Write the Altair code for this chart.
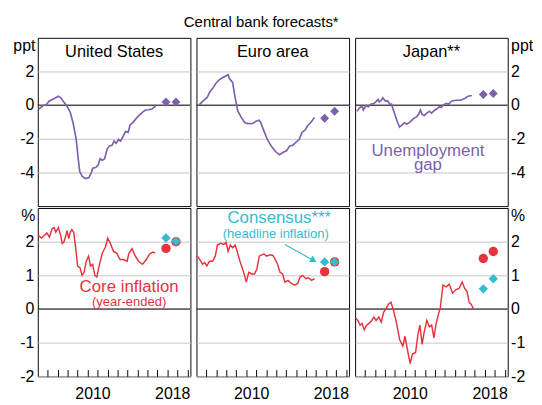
import altair as alt
import pandas as pd

FONT = "Liberation Sans"
PURPLE = "#7d5fae"
RED = "#e8323c"
TEAL = "#36bccf"
GRID = "#c4c4c4"

YEAR_DOMAIN = [2005, 2020.3]
GAP_DOMAIN = [-6, 4]
INF_DOMAIN = [-2, 3]
GAP_TICKS = [-4, -2, 0, 2]
INF_TICKS = [-2, -1, 0, 1, 2]
YEAR_TICKS = list(range(2006, 2021))
COUNTRIES = ["United States", "Euro area", "Japan**"]
FORECAST_YEARS = [2017.85, 2018.85]

# ---- Unemployment gap (ppt) ----
us_gap_x = [2005.1, 2005.5, 2005.85, 2006.15, 2006.65, 2007.05, 2007.3, 2007.6, 2007.9, 2008.25,
            2008.55, 2008.85, 2009.05, 2009.2, 2009.45, 2009.75, 2010.1, 2010.35, 2010.5, 2010.8,
            2011.05, 2011.25, 2011.45, 2011.7, 2011.95, 2012.2, 2012.45, 2012.65, 2012.85, 2013.1,
            2013.3, 2013.55, 2013.8, 2014.05, 2014.25, 2014.5, 2014.85, 2015.15, 2015.5, 2015.8,
            2016.1, 2016.45, 2016.7, 2016.85]
us_gap_y = [-0.23, -0.04, 0.02, 0.25, 0.4, 0.53, 0.44, 0.19, -0.04, -0.42,
            -1.09, -2.04, -3.18, -3.94, -4.23, -4.36, -4.32, -4.04, -3.75, -3.71,
            -3.56, -3.18, -3.28, -3.18, -2.61, -2.42, -2.38, -2.13, -2.27, -2.04,
            -2.13, -1.85, -1.56, -1.62, -1.18, -1.05, -0.8, -0.61, -0.42, -0.29,
            -0.27, -0.23, -0.1, 0.0]

ea_gap_x = [2005.27, 2005.66, 2006.05, 2006.37, 2006.6, 2006.95, 2007.33, 2007.75, 2008.17, 2008.3,
            2008.62, 2008.88, 2009.13, 2009.46, 2009.85, 2010.16, 2010.65, 2010.97, 2011.3, 2011.45,
            2011.78, 2012.1, 2012.48, 2012.9, 2013.32, 2013.7, 2014.03, 2014.35, 2014.67, 2015.0,
            2015.3, 2015.57, 2015.9, 2016.12, 2016.44, 2016.83]
ea_gap_y = [0.02, 0.25, 0.44, 0.82, 0.97, 1.3, 1.53, 1.67, 1.81, 1.58,
            1.35, 0.44, -0.33, -0.7, -1.05, -1.1, -1.09, -0.95, -0.9, -1.05,
            -1.56, -2.04, -2.42, -2.74, -2.95, -2.8, -2.71, -2.42, -2.38, -2.19,
            -2.04, -1.62, -1.47, -1.24, -1.05, -0.74]

jp_gap_x = [2005.17, 2005.43, 2005.7, 2005.82, 2006.08, 2006.33, 2006.56, 2006.88, 2007.1, 2007.3,
            2007.43, 2007.62, 2007.78, 2008.01, 2008.26, 2008.49, 2008.65, 2008.91, 2009.23, 2009.46,
            2009.68, 2009.94, 2010.19, 2010.52, 2010.84, 2011.16, 2011.39, 2011.54, 2011.71, 2011.93,
            2012.19, 2012.45, 2012.67, 2012.9, 2013.16, 2013.42, 2013.64, 2013.86, 2014.12, 2014.38,
            2014.7, 2015.09, 2015.57, 2015.98, 2016.31, 2016.7]
jp_gap_y = [-0.36, -0.17, -0.04, -0.29, -0.04, -0.1, 0.06, 0.1, 0.21, 0.34,
            0.19, 0.29, 0.44, 0.25, 0.25, 0.06, 0.06, -0.42, -0.99, -1.31,
            -1.18, -1.05, -1.13, -0.99, -0.8, -0.7, -0.51, -0.29, -0.55, -0.61,
            -0.47, -0.36, -0.47, -0.33, -0.23, -0.1, -0.13, 0.02, 0.1, 0.06,
            0.25, 0.29, 0.29, 0.4, 0.53, 0.57]

us_gap_fc = [0.19, 0.19]
ea_gap_fc = [-0.78, -0.36]
jp_gap_fc = [0.63, 0.69]

# ---- Core inflation (%) ----
us_inf_x = [2005.03, 2005.36, 2005.68, 2005.9, 2006.16, 2006.42, 2006.64, 2006.8, 2007.06, 2007.29,
            2007.44, 2007.61, 2007.77, 2007.93, 2008.1, 2008.25, 2008.41, 2008.6, 2008.8, 2008.99,
            2009.22, 2009.44, 2009.64, 2009.86, 2010.09, 2010.28, 2010.5, 2010.72, 2010.92, 2011.15,
            2011.46, 2011.79, 2012.01, 2012.27, 2012.59, 2012.91, 2013.23, 2013.56, 2013.95, 2014.14,
            2014.46, 2014.78, 2015.1, 2015.49, 2015.88, 2016.2, 2016.52, 2016.78]
us_inf_y = [2.2, 2.11, 2.19, 2.26, 2.14, 2.38, 2.42, 2.28, 2.42, 2.19,
            1.95, 1.99, 2.14, 2.33, 2.09, 2.28, 2.36, 2.28, 1.81, 1.28,
            1.23, 1.0, 1.09, 1.42, 1.57, 1.28, 1.33, 1.0, 0.95, 1.28,
            1.66, 1.85, 2.11, 1.95, 1.71, 1.66, 1.47, 1.47, 1.42, 1.66,
            1.79, 1.57, 1.42, 1.33, 1.47, 1.63, 1.69, 1.66]

ea_inf_x = [2005.08, 2005.34, 2005.6, 2005.82, 2006.04, 2006.3, 2006.62, 2006.88, 2007.1, 2007.43,
            2007.75, 2007.97, 2008.17, 2008.4, 2008.62, 2008.88, 2009.13, 2009.36, 2009.68, 2010.0,
            2010.23, 2010.55, 2010.81, 2011.06, 2011.3, 2011.52, 2011.78, 2012.03, 2012.35, 2012.67,
            2012.9, 2013.13, 2013.38, 2013.64, 2013.86, 2014.19, 2014.51, 2014.83, 2015.15, 2015.38,
            2015.64, 2015.96, 2016.22, 2016.54, 2016.85]
ea_inf_y = [1.57, 1.47, 1.33, 1.38, 1.28, 1.42, 1.42, 1.57, 1.9, 1.95,
            1.92, 1.98, 1.71, 1.9, 1.82, 1.9, 1.66, 1.42, 1.14, 0.8,
            1.09, 1.04, 1.04, 1.19, 1.57, 1.61, 1.63, 1.57, 1.61, 1.59,
            1.47, 1.33, 1.09, 1.04, 0.8, 0.85, 0.76, 0.71, 0.76, 0.95,
            1.0, 0.9, 0.93, 0.85, 0.9]

jp_inf_x = [2005.05, 2005.27, 2005.5, 2005.7, 2005.92, 2006.14, 2006.4, 2006.66, 2006.88, 2007.1,
            2007.37, 2007.62, 2007.85, 2008.07, 2008.33, 2008.59, 2008.81, 2009.13, 2009.46, 2009.78,
            2010.0, 2010.26, 2010.52, 2010.74, 2011.06, 2011.29, 2011.49, 2011.71, 2011.93, 2012.19,
            2012.45, 2012.67, 2012.9, 2013.09, 2013.32, 2013.54, 2013.8, 2014.12, 2014.44, 2014.77,
            2015.09, 2015.41, 2015.73, 2015.98, 2016.22, 2016.44, 2016.63, 2016.85]
jp_inf_y = [-0.27, -0.34, -0.48, -0.43, -0.62, -0.48, -0.43, -0.34, -0.24, -0.34,
            -0.24, -0.39, -0.1, 0.0, 0.14, 0.2, 0.0, -0.39, -0.91, -1.1,
            -0.81, -1.24, -1.62, -1.34, -1.29, -0.77, -0.48, -1.05, -0.67, -0.34,
            -0.53, -0.48, -0.86, -0.48, -0.19, 0.04, 0.71, 0.66, 0.74, 0.47,
            0.57, 0.61, 0.8, 0.61, 0.52, 0.19, 0.14, 0.01]

us_core_fc = [1.8, 2.0]
ea_core_fc = [1.11, 1.4]
jp_core_fc = [1.5, 1.71]
us_consensus_fc = [2.11, 2.01]
ea_consensus_fc = [1.4, 1.4]
jp_consensus_fc = [0.6, 0.9]

GAP_LINES = [(us_gap_x, us_gap_y), (ea_gap_x, ea_gap_y), (jp_gap_x, jp_gap_y)]
GAP_FC = [us_gap_fc, ea_gap_fc, jp_gap_fc]
INF_LINES = [(us_inf_x, us_inf_y), (ea_inf_x, ea_inf_y), (jp_inf_x, jp_inf_y)]
CORE_FC = [us_core_fc, ea_core_fc, jp_core_fc]
CONS_FC = [us_consensus_fc, ea_consensus_fc, jp_consensus_fc]

# annotation anchors (data coordinates of the panel they sit in)
GAP_LABEL = {"col": 2, "x": 2012.3, "y": -3.0, "text": ["Unemployment", "gap"]}
CORE_LABEL = {"col": 0, "x": 2014.15, "y": 0.5, "text": "Core inflation"}
CORE_SUB = {"col": 0, "x": 2014.15, "y": 0.1, "text": "(year-ended)"}
CONS_LABEL = {"col": 1, "x": 2013.3, "y": 2.55, "text": "Consensus***"}
CONS_SUB = {"col": 1, "x": 2012.95, "y": 2.1, "text": "(headline inflation)"}
ARROW = {"col": 1, "x": 2013.86, "y": 1.92, "x2": 2016.6, "y2": 1.465,
         "hx": 2016.75, "hy": 1.445}

W, H = 158.7, 175
FS = 16.5


def frame(x, y):
    return pd.DataFrame({"x": x, "y": y})


def panel(row, col):
    if row == 0:
        ydom, yticks, unit = GAP_DOMAIN, GAP_TICKS, "ppt"
    else:
        ydom, yticks, unit = INF_DOMAIN, INF_TICKS, "%"

    xscale = alt.Scale(domain=YEAR_DOMAIN, nice=False, zero=False)
    yscale = alt.Scale(domain=ydom, nice=False, zero=False)

    if row == 1:
        xaxis = alt.Axis(values=YEAR_TICKS, grid=False, domain=False, tickSize=7, offset=-7,
                         tickColor="black", tickWidth=1, labelPadding=10, labelOffset=5,
                         labelFontSize=FS, labelColor="black", labelFlush=False,
                         labelOverlap=False, title=None, minExtent=0,
                         labelExpr="(datum.value == 2010 || datum.value == 2018) ? datum.value + '' : ''")
    else:
        xaxis = None

    common = dict(values=yticks, grid=True, gridColor=GRID, gridWidth=1, ticks=False, domain=False,
                  minExtent=0)
    if col == 0:
        yaxis = alt.Axis(orient="left", labelPadding=4, labelFontSize=FS, labelColor="black",
                         labelExpr="datum.value + ''", title=unit, titleAngle=0, titleAlign="right",
                         titleBaseline="alphabetic", titleX=-3, titleY=13, titleFontSize=FS,
                         titleFontWeight="normal", titleColor="black", **common)
    elif col == 2:
        yaxis = alt.Axis(orient="right", labelPadding=3, labelFontSize=FS, labelColor="black",
                         labelExpr="datum.value + ''", title=unit, titleAngle=0, titleAlign="left",
                         titleBaseline="alphabetic", titleX=3, titleY=13, titleFontSize=FS,
                         titleFontWeight="normal", titleColor="black", **common)
    else:
        yaxis = alt.Axis(labels=False, title=None, **common)

    X = alt.X("x:Q", scale=xscale, axis=xaxis)
    Y = alt.Y("y:Q", scale=yscale, axis=yaxis)

    layers = []
    zero = alt.Chart(pd.DataFrame({"y": [0]})).mark_rule(color="black", strokeWidth=1).encode(y=Y)
    layers.append(zero)

    if row == 0:
        lx, ly = GAP_LINES[col]
        layers.append(alt.Chart(frame(lx, ly)).mark_line(color=PURPLE, strokeWidth=1.7).encode(x=X, y=Y))
        layers.append(alt.Chart(frame(FORECAST_YEARS, GAP_FC[col])).mark_point(
            shape="diamond", filled=True, size=85, color=PURPLE, opacity=1).encode(x=X, y=Y))
    else:
        lx, ly = INF_LINES[col]
        layers.append(alt.Chart(frame(lx, ly)).mark_line(color=RED, strokeWidth=1.5).encode(x=X, y=Y))
        layers.append(alt.Chart(frame(FORECAST_YEARS, CORE_FC[col])).mark_point(
            shape="circle", filled=True, size=95, color=RED, opacity=1).encode(x=X, y=Y))
        layers.append(alt.Chart(frame(FORECAST_YEARS, CONS_FC[col])).mark_point(
            shape="diamond", filled=True, size=95, color=TEAL, opacity=1).encode(x=X, y=Y))

    # panel title
    if row == 0:
        layers.append(alt.Chart(pd.DataFrame({"t": [COUNTRIES[col]]})).mark_text(
            fontSize=17, font=FONT, color="black", baseline="alphabetic", align="center").encode(
            x=alt.value(W / 2), y=alt.value(19.5), text="t:N"))

    def ann(spec, color, size, lh=14.5):
        d = pd.DataFrame({"x": [spec["x"]], "y": [spec["y"]], "t": [spec["text"]]})
        return alt.Chart(d).mark_text(fontSize=size, font=FONT, color=color, baseline="alphabetic",
                                      align="center", lineHeight=lh).encode(x=X, y=Y, text="t")

    if row == 0 and col == GAP_LABEL["col"]:
        layers.append(ann(GAP_LABEL, PURPLE, 17.5, 15))
    if row == 1 and col == CORE_LABEL["col"]:
        layers.append(ann(CORE_LABEL, RED, 17.5))
        layers.append(ann(CORE_SUB, RED, 13.5))
    if row == 1 and col == CONS_LABEL["col"]:
        layers.append(ann(CONS_LABEL, TEAL, 17.5))
        layers.append(ann(CONS_SUB, TEAL, 13.5))
        ad = pd.DataFrame({"x": [ARROW["x"]], "y": [ARROW["y"]], "x2": [ARROW["x2"]], "y2": [ARROW["y2"]]})
        layers.append(alt.Chart(ad).mark_rule(color=TEAL, strokeWidth=1.2).encode(
            x=X, y=Y, x2="x2:Q", y2="y2:Q"))
        hd = pd.DataFrame({"x": [ARROW["hx"]], "y": [ARROW["hy"]]})
        layers.append(alt.Chart(hd).mark_point(shape="triangle-up", filled=True, size=60, color=TEAL,
                                               opacity=1, angle=119).encode(x=X, y=Y))

    return alt.layer(*layers).properties(width=W, height=H)


panels = [panel(r, c) for r in range(2) for c in range(3)]

chart = alt.concat(*panels, columns=3, spacing=0).properties(
    title=alt.TitleParams("Central bank forecasts*", fontSize=15.5, fontWeight="normal", anchor="middle",
                          offset=7.5, dx=-12, color="black", font=FONT),
    padding={"left": 4, "top": -1, "right": 0, "bottom": 0},
).configure_view(stroke="black", strokeWidth=1).configure_axis(
    labelFont=FONT, titleFont=FONT
).configure_text(font=FONT)

chart.save("out.html", embed_options={"renderer": "svg", "actions": False})
